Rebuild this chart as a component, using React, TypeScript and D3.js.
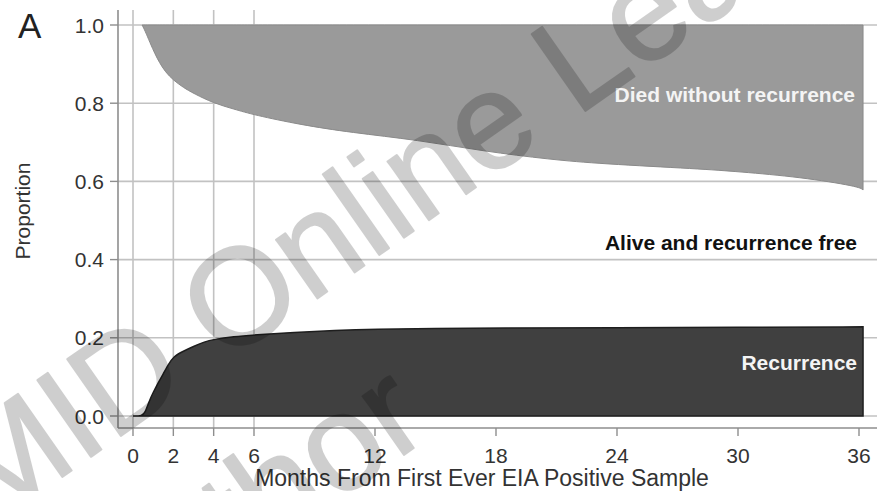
import React from "react";
import * as d3 from "d3";

// Cumulative incidence of recurrence (lower band), by month
const recurMonths = [0, 0.45, 0.6, 0.8, 1.0, 1.25, 1.5, 1.75, 2, 2.5, 3, 3.5, 4, 5, 6, 8, 10, 12, 15, 18, 24, 30, 36.2];
const recurProp = [0, 0, 0.008, 0.038, 0.06, 0.085, 0.108, 0.131, 0.152, 0.166, 0.178, 0.189, 0.196, 0.203, 0.207, 0.214, 0.219, 0.222, 0.224, 0.225, 0.226, 0.227, 0.228];

// Upper boundary of the alive band (1 - cumulative incidence of death without recurrence)
const diedMonths = [0.45, 0.6, 0.84, 1.1, 1.3, 1.6, 2, 2.5, 3, 4, 5, 6, 8.3, 10.8, 14.1, 17.4, 20.7, 23.2, 28.1, 30, 33.1, 36, 36.2];
const diedProp = [1, 0.985, 0.955, 0.925, 0.905, 0.88, 0.859, 0.84, 0.825, 0.8, 0.785, 0.77, 0.745, 0.725, 0.706, 0.677, 0.656, 0.645, 0.632, 0.625, 0.611, 0.587, 0.578];

const xTicks = [0, 2, 4, 6, 12, 18, 24, 30, 36];
const xGridTicks = [0, 2, 4, 6];
const yTicks = [0, 0.2, 0.4, 0.6, 0.8, 1.0];

const W = 877;
const H = 491;
const FONT = "'Liberation Sans', Arial, Helvetica, sans-serif";

export default function App() {
  const x = d3.scaleLinear().domain([0, 36]).range([133, 859]);
  const y = d3.scaleLinear().domain([0, 1]).range([416, 25]);

  const recur = recurMonths.map((m, i) => [m, recurProp[i]] as [number, number]);
  const died = diedMonths.map((m, i) => [m, diedProp[i]] as [number, number]);

  const recurArea = d3
    .area<[number, number]>()
    .x((d) => x(d[0]))
    .y0(y(0))
    .y1((d) => y(d[1]))
    .curve(d3.curveBasis);

  const diedArea = d3
    .area<[number, number]>()
    .x((d) => x(d[0]))
    .y0(y(1))
    .y1((d) => y(d[1]))
    .curve(d3.curveBasis);

  const axisX = 118;
  const axisY = 428;
  const gridColor = "#c2c2c2";
  const axisColor = "#8e8e8e";

  return (
    <svg
      width={W}
      height={H}
      viewBox={`0 0 ${W} ${H}`}
      style={{ position: "absolute", left: 0, top: 0, background: "#fff" }}
      fontFamily={FONT}
    >
      <rect x={0} y={0} width={W} height={H} fill="#fff" />

      {/* horizontal grid */}
      {yTicks.map((t) => (
        <line key={`hg${t}`} x1={axisX} x2={W} y1={y(t)} y2={y(t)} stroke={gridColor} strokeWidth={1.6} />
      ))}
      {/* vertical grid for early months */}
      {xGridTicks.map((t) => (
        <line key={`vg${t}`} x1={x(t)} x2={x(t)} y1={10} y2={axisY} stroke={gridColor} strokeWidth={1.6} />
      ))}

      {/* bands */}
      <path d={diedArea(died) || ""} fill="#9a9a9a" stroke="#8a8a8a" strokeWidth={1} />
      <path d={recurArea(recur) || ""} fill="#404040" stroke="#1e1e1e" strokeWidth={1.5} />

      {/* axes */}
      <line x1={axisX} x2={axisX} y1={10} y2={axisY} stroke={axisColor} strokeWidth={1.6} />
      <line x1={axisX} x2={W} y1={axisY} y2={axisY} stroke={axisColor} strokeWidth={1.6} />
      {yTicks.map((t) => (
        <g key={`yt${t}`}>
          <line x1={110} x2={axisX} y1={y(t)} y2={y(t)} stroke={axisColor} strokeWidth={1.4} />
          <text x={104} y={y(t)} dy="0.36em" textAnchor="end" fontSize={21} fill="#333">
            {d3.format(".1f")(t)}
          </text>
        </g>
      ))}
      {xTicks.map((t) => (
        <g key={`xt${t}`}>
          <line x1={x(t)} x2={x(t)} y1={axisY} y2={436} stroke={axisColor} strokeWidth={1.4} />
          <text x={x(t)} y={463} textAnchor="middle" fontSize={21} fill="#333">
            {t}
          </text>
        </g>
      ))}

      {/* titles */}
      <text x={18} y={38} fontSize={35} fill="#222">A</text>
      <text
        transform={`translate(30, 211) rotate(-90)`}
        textAnchor="middle"
        fontSize={21}
        fill="#333"
      >
        Proportion
      </text>
      <text x={482} y={486} textAnchor="middle" fontSize={23} fill="#333">
        Months From First Ever EIA Positive Sample
      </text>

      {/* band labels */}
      <text x={855} y={102} textAnchor="end" fontSize={21} fontWeight="bold" fill="#f4f4f4">
        Died without recurrence
      </text>
      <text x={857} y={250} textAnchor="end" fontSize={21} fontWeight="bold" fill="#111">
        Alive and recurrence free
      </text>
      <text x={857} y={370} textAnchor="end" fontSize={21} fontWeight="bold" fill="#f4f4f4">
        Recurrence
      </text>

      {/* watermark */}
      <g fill="#000" stroke="#000" strokeWidth={2} strokeLinejoin="round" opacity={0.19} fontSize={136} fontFamily={FONT}>
        <text transform="translate(-12, 529) rotate(-35)">MID Online Learning</text>
        <text transform="translate(105, 664) rotate(-35)">Author</text>
      </g>
    </svg>
  );
}
